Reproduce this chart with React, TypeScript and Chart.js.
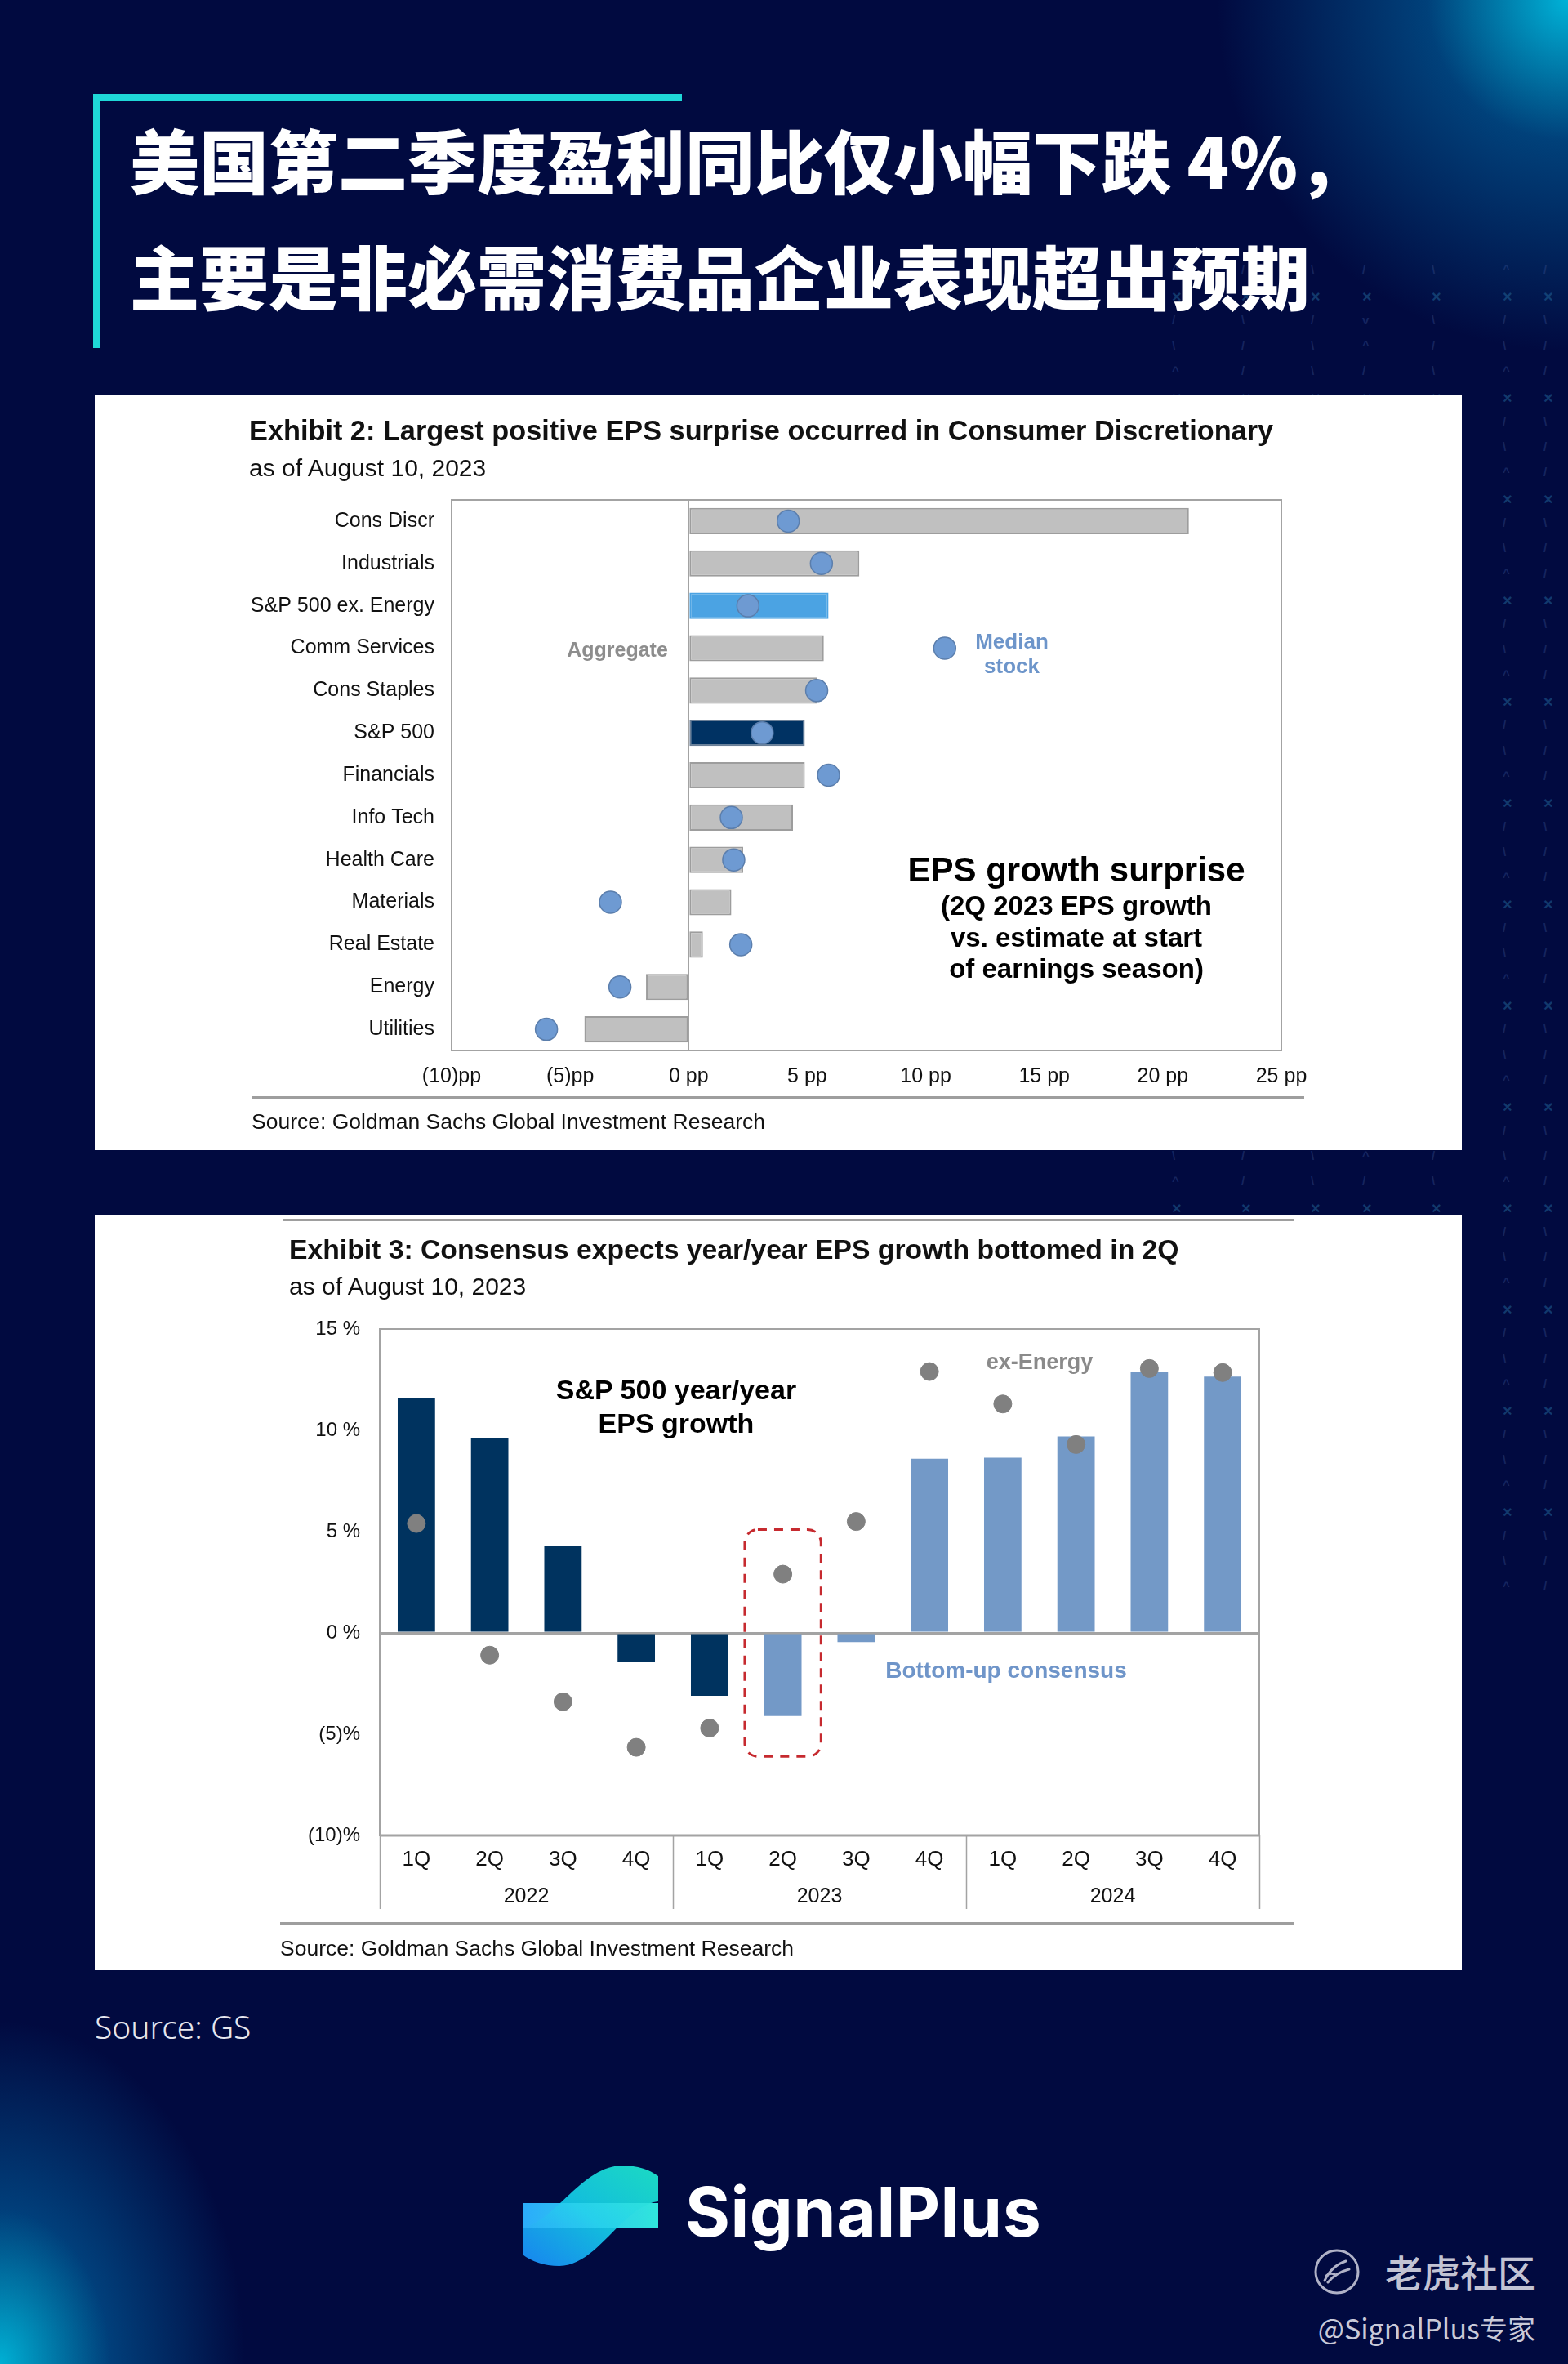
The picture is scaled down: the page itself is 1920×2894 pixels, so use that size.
import React, { useEffect, useRef } from 'react';
import { Chart, registerables } from 'chart.js';

Chart.register(...registerables);

// ---------- Exhibit 2 data ----------
const sectors = [
  'Cons Discr', 'Industrials', 'S&P 500 ex. Energy', 'Comm Services', 'Cons Staples', 'S&P 500',
  'Financials', 'Info Tech', 'Health Care', 'Materials', 'Real Estate', 'Energy', 'Utilities',
];
const aggregateSurprise = [21.1, 7.2, 5.9, 5.7, 5.4, 4.9, 4.9, 4.4, 2.3, 1.8, 0.6, -1.8, -4.4];
const medianStockSurprise = [4.2, 5.6, 2.5, 10.8, 5.4, 3.1, 5.9, 1.8, 1.9, -3.3, 2.2, -2.9, -6.0];
const surpriseTicks = [-10, -5, 0, 5, 10, 15, 20, 25];
const surpriseTickLabels = ['(10)pp', '(5)pp', '0 pp', '5 pp', '10 pp', '15 pp', '20 pp', '25 pp'];

// ---------- Exhibit 3 data ----------
const quarters = ['1Q', '2Q', '3Q', '4Q', '1Q', '2Q', '3Q', '4Q', '1Q', '2Q', '3Q', '4Q'];
const years = ['2022', '2023', '2024'];
const epsGrowth = [11.6, 9.6, 4.3, -1.45, -3.1, -4.1, -0.45, 8.6, 8.65, 9.7, 12.9, 12.65];
const exEnergyGrowth = [5.4, -1.1, -3.4, -5.65, -4.7, 2.9, 5.5, 12.9, 11.3, 9.3, 13.05, 12.85];
const growthTicks = [-10, -5, 0, 5, 10, 15];
const growthTickLabels = ['(10)%', '(5)%', '0 %', '5 %', '10 %', '15 %'];
const reportedCount = 5; // 1Q22 .. 1Q23 reported
const highlightIndex = 5; // 2Q 2023
const highlightRange = [-6.1, 5.1];

// ---------- styles ----------
const BG = '#010a40';
const ARIAL = '"Liberation Sans", Arial, Helvetica, sans-serif';
const CJK = '"Noto Sans CJK SC", "Noto Sans", sans-serif';
const GRID_GRAY = '#a3a3a3';

const framePlugin = (bottomWidth: number) => ({
  id: 'frame',
  beforeDatasetsDraw(chart: any) {
    const { ctx, chartArea } = chart;
    const { left, top, right, bottom } = chartArea;
    ctx.save();
    ctx.strokeStyle = GRID_GRAY;
    ctx.lineWidth = 2;
    ctx.strokeRect(left, top, right - left, bottom - top);
    ctx.lineWidth = bottomWidth;
    ctx.beginPath();
    ctx.moveTo(left, bottom);
    ctx.lineTo(right, bottom);
    ctx.stroke();
    ctx.restore();
  },
});

const separatorPlugin = {
  id: 'yearSeparators',
  afterDraw(chart: any) {
    const { ctx, chartArea, scales } = chart;
    const x = scales.x;
    const x2 = scales.x2;
    const per = quarters.length / years.length;
    ctx.save();
    ctx.strokeStyle = GRID_GRAY;
    ctx.lineWidth = 1.5;
    for (let g = 0; g <= years.length; g++) {
      const px = Math.round(x.getPixelForValue(g * per - 0.5)) + 0.5;
      ctx.beginPath();
      ctx.moveTo(px, chartArea.bottom);
      ctx.lineTo(px, x2.bottom);
      ctx.stroke();
    }
    ctx.restore();
  },
};

const highlightPlugin = {
  id: 'highlightBox',
  afterDatasetsDraw(chart: any) {
    const { ctx, scales } = chart;
    const x = scales.x;
    const y = scales.y;
    const xc = x.getPixelForValue(highlightIndex);
    const half = (x.getPixelForValue(1) - x.getPixelForValue(0)) * 0.52;
    const top = y.getPixelForValue(highlightRange[1]);
    const bottom = y.getPixelForValue(highlightRange[0]);
    ctx.save();
    ctx.strokeStyle = '#c62a2f';
    ctx.lineWidth = 3;
    ctx.setLineDash([11, 9]);
    ctx.beginPath();
    (ctx as any).roundRect(xc - half, top, half * 2, bottom - top, 16);
    ctx.stroke();
    ctx.restore();
  },
};

function T(props: {
  x: number; y: number; size: number; children: any; weight?: number | string; color?: string;
  align?: 'left' | 'center' | 'right'; family?: string; lh?: number; ls?: number;
}) {
  const { x, y, size, children, weight = 400, color = '#000', align = 'left', family = ARIAL, lh, ls } = props;
  const tx = align === 'left' ? '0' : align === 'center' ? '-50%' : '-100%';
  return (
    <div
      style={{
        position: 'absolute', left: x, top: y, transform: `translate(${tx}, -50%)`,
        fontSize: size, fontWeight: weight as any, color, fontFamily: family,
        lineHeight: lh ? `${lh}px` : 1, whiteSpace: 'nowrap', textAlign: align,
        letterSpacing: ls ? `${ls}px` : undefined,
      }}
    >
      {children}
    </div>
  );
}

export default function App() {
  const c1 = useRef<HTMLCanvasElement>(null);
  const c2 = useRef<HTMLCanvasElement>(null);

  useEffect(() => {
    document.body.style.margin = '0';
    document.body.style.background = BG;

    const ch1 = new Chart(c1.current as HTMLCanvasElement, {
      type: 'bar',
      data: {
        labels: sectors,
        datasets: [
          {
            type: 'line',
            label: 'Median stock',
            data: medianStockSurprise,
            indexAxis: 'y',
            showLine: false,
            pointRadius: 13.5,
            pointHoverRadius: 13.5,
            pointBackgroundColor: '#6e9ad2',
            pointBorderColor: '#5b7eac',
            pointBorderWidth: 1.5,
            order: 0,
          } as any,
          {
            type: 'bar',
            label: 'Aggregate',
            data: aggregateSurprise,
            indexAxis: 'y',
            backgroundColor: (ctx: any) => {
              const l = sectors[ctx.dataIndex];
              if (l === 'S&P 500 ex. Energy') return '#4ba3e3';
              if (l === 'S&P 500') return '#003263';
              return '#c0c0c0';
            },
            borderColor: (ctx: any) => {
              const l = sectors[ctx.dataIndex];
              if (l === 'S&P 500 ex. Energy') return '#4ba3e3';
              if (l === 'S&P 500') return '#6a7f97';
              return '#9d9d9d';
            },
            borderWidth: 2,
            borderSkipped: false,
            barPercentage: 0.62,
            categoryPercentage: 1,
            order: 1,
          } as any,
        ],
      },
      options: {
        indexAxis: 'y',
        animation: false,
        responsive: false,
        maintainAspectRatio: false,
        events: [],
        layout: { padding: { left: 0, top: 128, right: 221, bottom: 72 } },
        plugins: { legend: { display: false }, tooltip: { enabled: false } },
        scales: {
          x: {
            type: 'linear',
            position: 'bottom',
            min: -10,
            max: 25,
            afterBuildTicks: (s: any) => { s.ticks = surpriseTicks.map((value) => ({ value })); },
            afterFit: (s: any) => { s.height = 50; },
            grid: {
              color: (ctx: any) => (ctx.tick && ctx.tick.value === 0 ? GRID_GRAY : 'rgba(0,0,0,0)'),
              lineWidth: 2,
              drawTicks: false,
            },
            border: { display: false },
            ticks: {
              callback: (v: any) => surpriseTickLabels[surpriseTicks.indexOf(Number(v))],
              color: '#111',
              font: { family: ARIAL, size: 25 },
              padding: 17,
              maxRotation: 0,
              autoSkip: false,
            },
          },
          y: {
            type: 'category',
            afterFit: (s: any) => { s.width = 437; },
            grid: { display: false, drawTicks: false },
            border: { display: false },
            ticks: { color: '#111', font: { family: ARIAL, size: 25 }, padding: 21, autoSkip: false },
          },
        },
      } as any,
      plugins: [framePlugin(2)],
    });

    const ch2 = new Chart(c2.current as HTMLCanvasElement, {
      type: 'bar',
      data: {
        labels: quarters,
        datasets: [
          {
            type: 'line',
            label: 'ex-Energy',
            data: exEnergyGrowth,
            showLine: false,
            pointRadius: 11,
            pointHoverRadius: 11,
            pointBackgroundColor: '#808080',
            pointBorderColor: '#808080',
            pointBorderWidth: 1,
            order: 0,
          } as any,
          {
            type: 'bar',
            label: 'S&P 500 year/year EPS growth',
            data: epsGrowth,
            backgroundColor: (ctx: any) => (ctx.dataIndex < reportedCount ? '#00335f' : '#7399c7'),
            barPercentage: 0.51,
            categoryPercentage: 1,
            order: 1,
          } as any,
        ],
      },
      options: {
        animation: false,
        responsive: false,
        maintainAspectRatio: false,
        events: [],
        layout: { padding: { left: 0, top: 139, right: 248, bottom: 75 } },
        plugins: { legend: { display: false }, tooltip: { enabled: false } },
        scales: {
          x: {
            type: 'category',
            position: 'bottom',
            offset: true,
            weight: 0,
            afterFit: (s: any) => { s.height = 45; },
            grid: { display: false, drawTicks: false },
            border: { display: false },
            ticks: { color: '#111', font: { family: ARIAL, size: 26 }, padding: 14, autoSkip: false, maxRotation: 0 },
          },
          x2: {
            type: 'category',
            labels: years,
            position: 'bottom',
            offset: true,
            weight: 1,
            afterFit: (s: any) => { s.height = 45; },
            grid: { display: false, drawTicks: false },
            border: { display: false },
            ticks: { color: '#111', font: { family: ARIAL, size: 25 }, padding: 15, autoSkip: false, maxRotation: 0 },
          },
          y: {
            type: 'linear',
            min: -10,
            max: 15,
            afterBuildTicks: (s: any) => { s.ticks = growthTicks.map((value) => ({ value })); },
            afterFit: (s: any) => { s.width = 349; },
            grid: {
              color: (ctx: any) => (ctx.tick && ctx.tick.value === 0 ? GRID_GRAY : 'rgba(0,0,0,0)'),
              lineWidth: 3,
              drawTicks: false,
            },
            border: { display: false },
            ticks: {
              callback: (v: any) => growthTickLabels[growthTicks.indexOf(Number(v))],
              color: '#111',
              font: { family: ARIAL, size: 24 },
              padding: 24,
            },
          },
        },
      } as any,
      plugins: [framePlugin(3), separatorPlugin, highlightPlugin],
    });

    return () => {
      ch1.destroy();
      ch2.destroy();
    };
  }, []);

  // decorative background marks (pattern, not data)
  const marks: any[] = [];
  const colsX = [1435, 1520, 1605, 1668, 1753, 1840, 1890];
  const rowGlyphs = [['^', '/', '\\', '/', '\\', '^', '/'], ['×', '×', '×', '×', '×', '×', '×'], ['/', '\\', '/', 'v', '\\', '/', '\\'], ['\\', '/', '\\', '^', '/', '\\', '/']];
  let r = 0;
  for (let yy = 322; yy < 1960; yy += 31) {
    const gl = rowGlyphs[r % rowGlyphs.length];
    colsX.forEach((xx, i) => {
      const g = gl[i];
      const isX = g === '×';
      marks.push(
        <div key={`${xx}-${yy}`} style={{ position: 'absolute', left: xx, top: yy, fontSize: isX ? 20 : 15, fontWeight: 700, color: isX ? 'rgba(35,105,155,0.5)' : 'rgba(55,80,145,0.4)', fontFamily: ARIAL, lineHeight: 1 }}>{g}</div>
      );
    });
    r++;
  }

  const rule = (x: number, y: number, w: number) => (
    <div style={{ position: 'absolute', left: x, top: y, width: w, height: 3, background: '#9e9e9e' }} />
  );

  return (
    <div
      style={{
        position: 'relative', width: 1920, height: 2894, overflow: 'hidden', background: BG,
        fontFamily: ARIAL,
      }}
    >
      {/* glows */}
      <div style={{ position: 'absolute', inset: 0, background: 'radial-gradient(circle 430px at 100% 0%, rgba(0,178,215,1) 0%, rgba(0,110,170,0.55) 40%, rgba(1,10,64,0) 100%)' }} />
      <div style={{ position: 'absolute', inset: 0, background: 'radial-gradient(ellipse 300px 420px at 0% 100%, rgba(0,185,220,0.95) 0%, rgba(0,115,180,0.5) 45%, rgba(1,10,64,0) 100%)' }} />
      {marks}

      {/* title accent */}
      <div style={{ position: 'absolute', left: 114, top: 115, width: 721, height: 9, background: '#1fd8d8' }} />
      <div style={{ position: 'absolute', left: 114, top: 115, width: 8, height: 311, background: '#1fd8d8' }} />
      <T x={159} y={193} size={85} weight={900} color="#ffffff" family={CJK}>美国第二季度盈利同比仅小幅下跌 4%，</T>
      <T x={159} y={335} size={85} weight={900} color="#ffffff" family={CJK}>主要是非必需消费品企业表现超出预期</T>

      {/* panel 1 */}
      <div style={{ position: 'absolute', left: 116, top: 484, width: 1674, height: 924, background: '#ffffff' }}>
        <canvas ref={c1} width={1674} height={924} style={{ display: 'block', width: 1674, height: 924 }} />
      </div>
      <T x={305} y={527} size={34.3} weight={700} color="#111">Exhibit 2: Largest positive EPS surprise occurred in Consumer Discretionary</T>
      <T x={305} y={573} size={30} color="#111">as of August 10, 2023</T>
      <T x={756} y={795} size={25} weight={700} color="#8d8d8d" align="center">Aggregate</T>
      <T x={1239} y={800} size={26} weight={700} color="#6d95ca" align="center" lh={30}>Median<br />stock</T>
      <T x={1318} y={1065} size={42} weight={700} color="#000" align="center">EPS growth surprise</T>
      <T x={1318} y={1148} size={33} weight={700} color="#000" align="center" lh={38.5}>(2Q 2023 EPS growth<br />vs. estimate at start<br />of earnings season)</T>
      {rule(308, 1342, 1289)}
      <T x={308} y={1373} size={26.5} color="#111">Source: Goldman Sachs Global Investment Research</T>

      {/* panel 2 */}
      <div style={{ position: 'absolute', left: 116, top: 1488, width: 1674, height: 924, background: '#ffffff' }}>
        <canvas ref={c2} width={1674} height={924} style={{ display: 'block', width: 1674, height: 924 }} />
      </div>
      {rule(347, 1492, 1237)}
      <T x={354} y={1530} size={33.7} weight={700} color="#111">Exhibit 3: Consensus expects year/year EPS growth bottomed in 2Q</T>
      <T x={354} y={1575} size={30} color="#111">as of August 10, 2023</T>
      <T x={828} y={1722} size={34} weight={700} color="#000" align="center" lh={41}>S&amp;P 500 year/year<br />EPS growth</T>
      <T x={1273} y={1667} size={27} weight={700} color="#8a8a8a" align="center">ex-Energy</T>
      <T x={1232} y={2045} size={28} weight={700} color="#6f95c9" align="center">Bottom-up consensus</T>
      {rule(343, 2353, 1241)}
      <T x={343} y={2385} size={26.5} color="#111">Source: Goldman Sachs Global Investment Research</T>

      {/* footer */}
      <T x={116} y={2480} size={39} weight={300} color="#e6e6ee" family='"Noto Sans", sans-serif'>Source: GS</T>

      <svg style={{ position: 'absolute', left: 640, top: 2650 }} width={166} height={125} viewBox="0 0 166 125">
        <defs>
          <linearGradient id="lgR" x1="1" y1="0" x2="0" y2="1">
            <stop offset="0" stopColor="#1eecce" />
            <stop offset="0.5" stopColor="#14cdea" />
            <stop offset="1" stopColor="#1a8eff" />
          </linearGradient>
          <linearGradient id="lgB" x1="0" y1="0" x2="1" y2="0">
            <stop offset="0" stopColor="#1aa6fb" />
            <stop offset="1" stopColor="#1fe4da" />
          </linearGradient>
        </defs>
        <path d="M0,47 H166 V77 H0 Z" fill="url(#lgB)" />
        <path d="M0,77 C40,70 72,1 123,1 C140,1 155,6 166,14 L166,45 C122,50 92,124 45,124 C26,124 10,118 0,110 Z" fill="url(#lgR)" opacity="0.92" />
        <path d="M0,47 H166 V77 H0 Z" fill="#ffffff" opacity="0.08" />
      </svg>
      <T x={839} y={2708} size={84} weight={700} color="#ffffff" family='Inter, "Noto Sans", sans-serif' ls={0.5}>SignalPlus</T>

      <svg style={{ position: 'absolute', left: 1608, top: 2752 }} width={58} height={58} viewBox="0 0 58 58">
        <circle cx="29" cy="29" r="26" fill="none" stroke="rgba(220,220,232,0.8)" strokeWidth="3" />
        <path d="M14,40 Q22,22 40,16 M18,42 Q28,30 44,26 M16,34 Q20,30 26,32" fill="none" stroke="rgba(220,220,232,0.8)" strokeWidth="3" strokeLinecap="round" />
      </svg>
      <T x={1880} y={2780} size={46} weight={500} color="rgba(222,222,232,0.9)" family={CJK} align="right">老虎社区</T>
      <T x={1880} y={2850} size={34} weight={400} color="rgba(222,222,232,0.92)" family={CJK} align="right">@SignalPlus专家</T>
    </div>
  );
}
